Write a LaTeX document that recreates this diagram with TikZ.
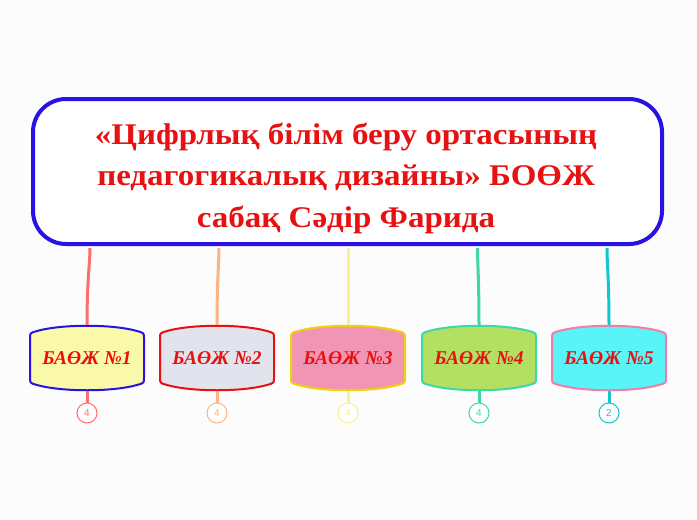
\documentclass[tikz,border=0pt]{standalone}
\usepackage{fontspec}
\setmainfont{Liberation Serif}
\newfontfamily\titlefont[FakeStretch=1.1]{Liberation Serif}
\newfontfamily\numfont{Liberation Sans}
\usepackage{xcolor}

\definecolor{bgcol}{RGB}{252,252,252}
\definecolor{mainblue}{RGB}{40,18,228}
\definecolor{textred}{RGB}{232,16,16}
\definecolor{lineA}{RGB}{255,110,110}
\definecolor{lineB}{RGB}{255,178,134}
\definecolor{lineC}{RGB}{250,240,140}
\definecolor{lineD}{RGB}{62,215,168}
\definecolor{lineE}{RGB}{18,198,206}
\definecolor{fillA}{RGB}{249,249,169}
\definecolor{fillB}{RGB}{225,228,236}
\definecolor{fillC}{RGB}{241,149,181}
\definecolor{fillD}{RGB}{179,224,99}
\definecolor{fillE}{RGB}{88,244,248}
\definecolor{gold}{RGB}{241,210,10}
\definecolor{pinkline}{RGB}{242,125,168}

% barrel outline: x, y, fill, border
\newcommand{\barrel}[4]{%
\filldraw[fill=#3,draw=#4,line width=2pt,shift={(#1,#2)}]
 (-57,20) -- (-57,-20) .. controls (-57,-25) .. (-50,-27)
 .. controls (-25,-34) and (25,-34) .. (50,-27)
 .. controls (57,-25) .. (57,-20) -- (57,20)
 .. controls (57,25) .. (50,27)
 .. controls (25,34) and (-25,34) .. (-50,27)
 .. controls (-57,25) .. (-57,20) -- cycle;}

\begin{document}
\begin{tikzpicture}[x=1pt,y=-1pt]
\fill[bgcol] (0,0) rectangle (697,520);
\useasboundingbox (0,0) rectangle (697,520);

\tikzstyle{mainbox}=[draw=mainblue,fill=white,line width=4pt,rounded corners=33pt,minimum width=629pt,minimum height=145pt]
\node[mainbox] (m) at (347.5,171.5) {};
\node[align=center,text=textred,font=\titlefont\bfseries\fontsize{30}{41.5}\selectfont] (title) at (346,178) {«Цифрлық білім беру ортасының\\педагогикалық дизайны» БОӨЖ\\сабақ Сәдір Фарида};

\tikzstyle{link}=[line width=3pt]
\tikzstyle{child}=[minimum width=114pt,minimum height=66pt,inner sep=0pt,text=textred,font=\bfseries\itshape\fontsize{19.5}{21}\selectfont]
\tikzstyle{count}=[circle,draw,fill=white,line width=1pt,minimum size=20pt,inner sep=0pt,font=\numfont\fontsize{10}{10}\selectfont]

\barrel{87}{358}{fillA}{mainblue}
\node[child] (c1) at (87,358) {БАӨЖ №1};
\barrel{217}{358}{fillB}{textred}
\node[child] (c2) at (217,358) {БАӨЖ №2};
\barrel{348}{358}{fillC}{gold}
\node[child] (c3) at (348,358) {БАӨЖ №3};
\barrel{479}{358}{fillD}{lineD}
\node[child] (c4) at (479,358) {БАӨЖ №4};
\barrel{609}{358}{fillE}{pinkline}
\node[child] (c5) at (609,358) {БАӨЖ №5};

\draw[link,lineA] (c1.north) .. controls +(0,-45) and +(0,15) .. ([xshift=3pt,yshift=-2pt]c1.north |- m.south);
\draw[link,lineB] (c2.north) .. controls +(0,-45) and +(0,15) .. ([xshift=2pt,yshift=-2pt]c2.north |- m.south);
\draw[link,lineC] (c3.north) -- ([yshift=-2pt]c3.north |- m.south);
\draw[link,lineD] (c4.north) .. controls +(0,-45) and +(0,15) .. ([xshift=-1.5pt,yshift=-2pt]c4.north |- m.south);
\draw[link,lineE] (c5.north) .. controls +(0,-45) and +(0,15) .. ([xshift=-2pt,yshift=-2pt]c5.north |- m.south);

\node[count,draw=lineA,text=lineA] (n1) at (87,413) {4};
\node[count,draw=lineB,text=lineB] (n2) at (217,413) {4};
\node[count,draw=lineC,text=lineC] (n3) at (348,413) {4};
\node[count,draw=lineD,text=lineD] (n4) at (479,413) {4};
\node[count,draw=lineE,text=lineE] (n5) at (609,413) {2};

\draw[link,lineA] (c1.south) -- (n1.north);
\draw[link,lineB] (c2.south) -- (n2.north);
\draw[link,lineC] (c3.south) -- (n3.north);
\draw[link,lineD] (c4.south) -- (n4.north);
\draw[link,lineE] (c5.south) -- (n5.north);
\end{tikzpicture}
\end{document}
